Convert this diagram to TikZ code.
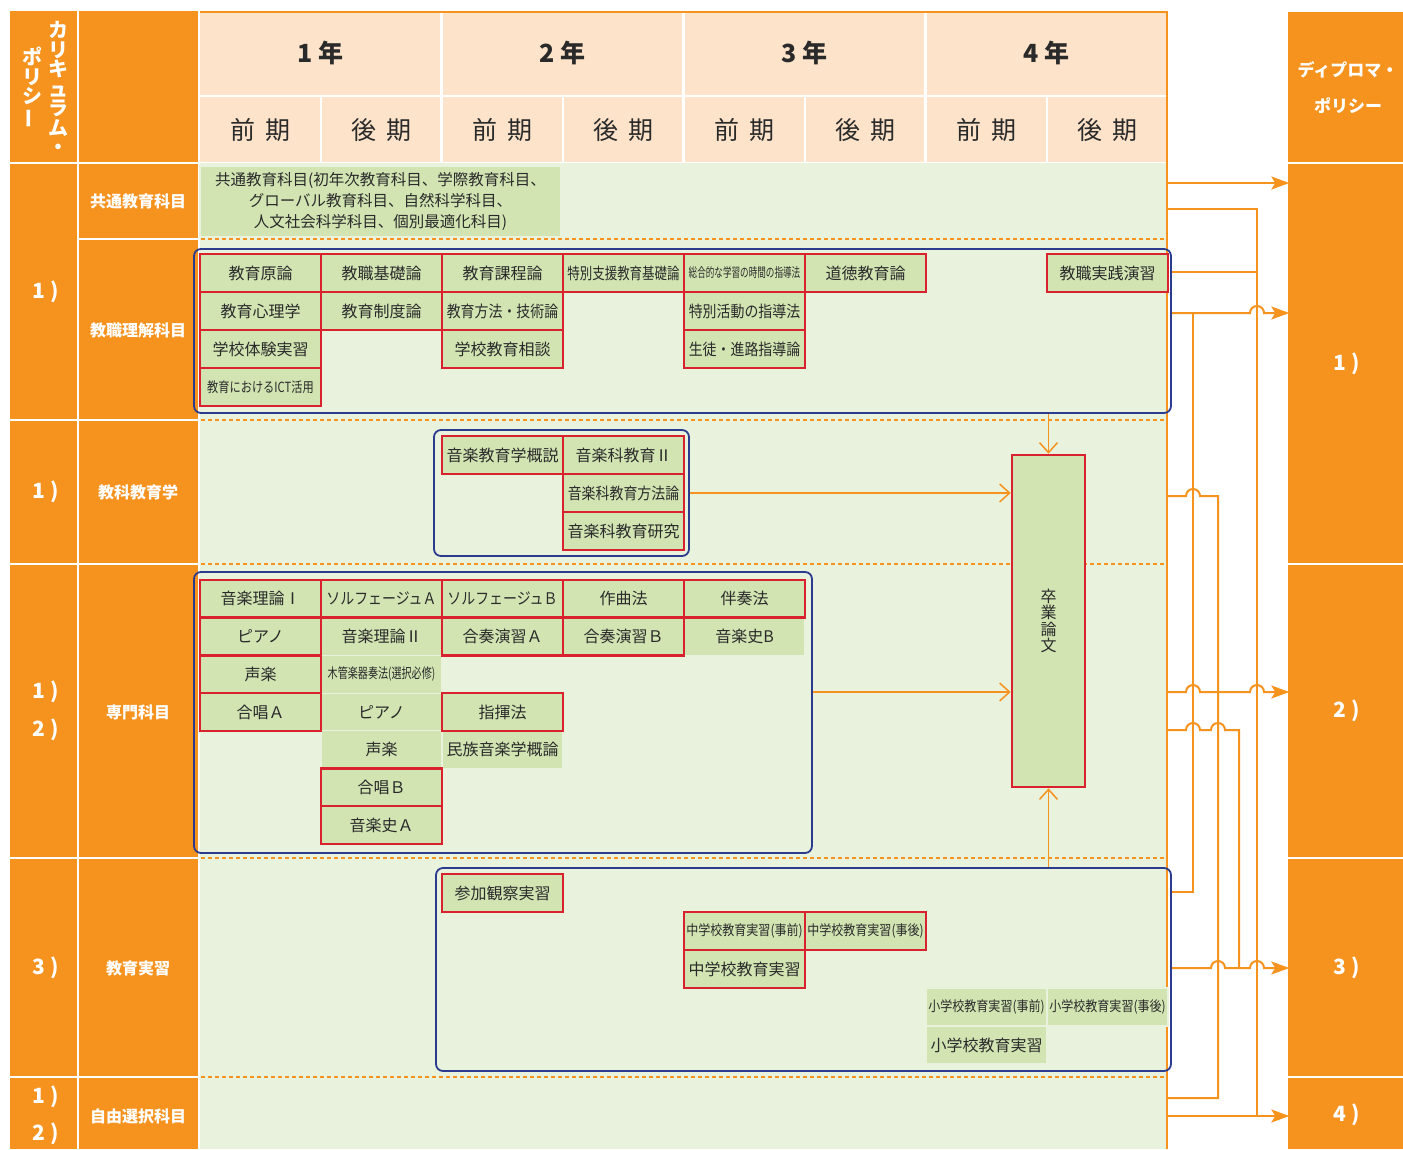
\documentclass[tikz,border=0pt]{standalone}
\usepackage{fontspec}
\setmainfont{Noto Sans CJK JP}
\usepackage{graphicx}
\usetikzlibrary{arrows.meta}
\definecolor{org}{HTML}{F6921E}
\definecolor{peach}{HTML}{FDE3C9}
\definecolor{bgg}{HTML}{E9F2DD}
\definecolor{cellg}{HTML}{D1E4B2}
\definecolor{redb}{HTML}{D8232E}
\definecolor{blueb}{HTML}{2B3C8F}
\definecolor{txt}{HTML}{2A2A2A}
\newcommand\fs[1]{\fontsize{#1}{#1}\selectfont}
\newcommand\cnd[2]{\scalebox{#1}[1]{#2}}
\tikzset{
  txtb/.style={inner sep=0pt, text=txt, font=\fs{16}},
  gcell/.style={txtb, fill=cellg, draw=bgg, line width=1.2pt, minimum width=121pt, minimum height=38pt},
  rcell/.style={txtb, fill=cellg, draw=redb, line width=2.6pt, minimum width=121pt, minimum height=38pt},
  sh/.style={minimum height=37.7pt},
  bluebox/.style={draw=blueb, line width=1.8pt, rounded corners=7pt, inner sep=0pt},
  wlab/.style={text=white, font=\fs{16}\bfseries, inner sep=0pt},
  pnum/.style={text=white, font=\fs{21}\bfseries, inner sep=0pt},
  hdr/.style={text=txt, inner sep=0pt},
  wline/.style={draw=white, line width=2.5pt},
  dline/.style={draw=org, line width=1.2pt, dash pattern=on 4pt off 3pt},
  barb/.style={draw=org, line width=1.5pt, -{Straight Barb[length=10pt,width=18pt]}},
  conn/.style={draw=org, line width=2pt},
  conna/.style={conn, -{Stealth[length=18pt,width=13pt,inset=4pt]}},
  dpbox/.style={minimum width=115pt, inner sep=0pt, text=white, font=\fs{21}\bfseries},
}
\begin{document}
\begin{tikzpicture}[x=1pt,y=-1pt]
\useasboundingbox (0,0) rectangle (1403,1149);
\begin{scope}
\clip (0,0) rectangle (1403,1149);
% backgrounds
\fill[bgg] (199,163) rectangle (1167,1149);
\fill[peach] (199,12) rectangle (1167,162);
\draw[org, line width=2pt] (199,12) -- (1167,12) -- (1167,1149);
\fill[org] (10,11) rectangle (198,1149);
\fill[org] (1288,12) rectangle (1403,1149);
% header white lines
\draw[wline] (199,96) -- (1166,96);
\foreach \x in {441.5,683.5,925.5} \draw[wline] (\x,13) -- (\x,162);
\foreach \x in {321,563,805,1047} \draw[wline] (\x,96) -- (\x,162);
\draw[wline] (199,11) -- (199,1149);
% left column white lines
\draw[wline] (78,11) -- (78,1149);
\foreach \y in {163,420,564,858,1077} \draw[wline] (10,\y) -- (198,\y);
\draw[wline] (78,239) -- (198,239);
% right column white lines
\foreach \y in {163,564,858,1077} \draw[wline] (1288,\y) -- (1403,\y);
% dashed separators
\foreach \y in {239,420,564,858,1077} \draw[dline] (201,\y) -- (1166,\y);
\end{scope}

% header texts
\node[hdr, font=\fs{25}\bfseries] (y1) at (320.5,53) {1\hspace{0.2em}年};
\node[hdr, font=\fs{25}\bfseries] (y2) at (562.5,53) {2\hspace{0.2em}年};
\node[hdr, font=\fs{25}\bfseries] (y3) at (804.5,53) {3\hspace{0.2em}年};
\node[hdr, font=\fs{25}\bfseries] (y4) at (1046.5,53) {4\hspace{0.2em}年};
\node[hdr, font=\fs{25}] (s1) at (260.5,130) {前\hspace{0.4em}期};
\node[hdr, font=\fs{25}] (s2) at (381.5,130) {後\hspace{0.4em}期};
\node[hdr, font=\fs{25}] (s3) at (502.5,130) {前\hspace{0.4em}期};
\node[hdr, font=\fs{25}] (s4) at (623.5,130) {後\hspace{0.4em}期};
\node[hdr, font=\fs{25}] (s5) at (744.5,130) {前\hspace{0.4em}期};
\node[hdr, font=\fs{25}] (s6) at (865.5,130) {後\hspace{0.4em}期};
\node[hdr, font=\fs{25}] (s7) at (986.5,130) {前\hspace{0.4em}期};
\node[hdr, font=\fs{25}] (s8) at (1107.5,130) {後\hspace{0.4em}期};

% curriculum policy vertical title
\node[text=white, inner sep=0pt, align=center, font=\fontsize{20}{19.5}\selectfont\bfseries] (cpa) at (58,88) {カ\\リ\\キ\\ュ\\ラ\\ム\\・};
\node[text=white, inner sep=0pt, align=center, font=\fontsize{20}{19.5}\selectfont\bfseries] (cpb) at (32,88) {ポ\\リ\\シ\\\rotatebox[origin=c]{90}{ー}};

% category labels
\node[wlab] (k1) at (138,201) {共通教育科目};
\node[wlab] (k2) at (138,330) {教職理解科目};
\node[wlab] (k3) at (138,492) {教科教育学};
\node[wlab] (k4) at (138,712) {専門科目};
\node[wlab] (k5) at (138,968) {教育実習};
\node[wlab] (k6) at (138,1116) {自由選択科目};

% policy numbers left
\node[pnum] (n1) at (46,292) {1\hspace{0.25em})};
\node[pnum] (n2) at (46,492) {1\hspace{0.25em})};
\node[pnum] (n3) at (46,692) {1\hspace{0.25em})};
\node[pnum] (n4) at (46,730) {2\hspace{0.25em})};
\node[pnum] (n5) at (46,968) {3\hspace{0.25em})};
\node[pnum] (n6) at (46,1097) {1\hspace{0.25em})};
\node[pnum] (n7) at (46,1134) {2\hspace{0.25em})};

% diploma policy column
\node[text=white, inner sep=0pt, font=\fs{17}\bfseries] (dph1) at (1348,70) {ディプロマ・};
\node[text=white, inner sep=0pt, font=\fs{17}\bfseries] (dph2) at (1348,106) {ポリシー};
\node[dpbox, minimum height=399pt] (dp1) at (1347,363.5) {1\hspace{0.25em})};
\node[dpbox, minimum height=292pt] (dp2) at (1347,711) {2\hspace{0.25em})};
\node[dpbox, minimum height=217pt] (dp3) at (1347,967.5) {3\hspace{0.25em})};
\node[dpbox, minimum height=71pt] (dp4) at (1347,1115) {4\hspace{0.25em})};

% common education
\node[gcell, minimum width=361pt, minimum height=71pt, align=center, font=\fontsize{15.5}{21}\selectfont] (kyotsu) at (380.5,201.5) {共通教育科目(初年次教育科目、学際教育科目、\\グローバル教育科目、自然科学科目、\\人文社会科学科目、個別最適化科目)};

% blue group boxes
\node[bluebox, minimum width=977pt, minimum height=164pt] (kyo) at (682.5,331) {};
\node[bluebox, minimum width=255pt, minimum height=126pt] (kka) at (561.5,493) {};
\node[bluebox, minimum width=618pt, minimum height=281pt] (sen) at (503,712.5) {};
\node[bluebox, minimum width=735pt, minimum height=203pt] (jis) at (803.5,969.5) {};

% teaching profession
\node[rcell] (a1) at (260.5,273) {教育原論};
\node[rcell] (a2) at (381.5,273) {教職基礎論};
\node[rcell] (a3) at (502.5,273) {教育課程論};
\node[rcell] (a4) at (623.5,273) {\cnd{0.78}{特別支援教育基礎論}};
\node[rcell] (a5) at (744.5,273) {\fs{13}\cnd{0.66}{総合的な学習の時間の指導法}};
\node[rcell] (a6) at (865.5,273) {道徳教育論};
\node[rcell] (a7) at (1107.5,273) {教職実践演習};
\node[rcell] (b1) at (260.5,311) {教育心理学};
\node[rcell] (b2) at (381.5,311) {教育制度論};
\node[rcell] (b3) at (502.5,311) {\cnd{0.87}{教育方法・技術論}};
\node[rcell] (b5) at (744.5,311) {\cnd{0.87}{特別活動の指導法}};
\node[rcell] (c1) at (260.5,349) {学校体験実習};
\node[rcell] (c3) at (502.5,349) {学校教育相談};
\node[rcell] (c5) at (744.5,349) {\cnd{0.87}{生徒・進路指導論}};
\node[rcell] (d1) at (260.5,387) {\fs{14}\cnd{0.8}{教育におけるICT活用}};

% subject education
\node[rcell] (e1) at (502.5,455) {音楽教育学概説};
\node[rcell] (e2) at (623.5,455) {音楽科教育Ⅱ};
\node[rcell] (e3) at (623.5,493) {\cnd{0.87}{音楽科教育方法論}};
\node[rcell] (e4) at (623.5,531) {音楽科教育研究};

% specialized subjects: green only
\node[gcell, sh] (g2) at (381.5,636.6) {音楽理論Ⅱ};
\node[gcell, sh] (g5) at (744.5,636.6) {音楽史B};
\node[gcell, sh] (h2) at (381.5,674.3) {\fs{14}\cnd{0.72}{木管楽器奏法(選択必修)}};
\node[gcell, sh] (i2) at (381.5,712) {ピアノ};
\node[gcell, sh] (j2) at (381.5,749.6) {声楽};
\node[gcell, sh] (j3) at (502.5,749.6) {民族音楽学概論};
% specialized subjects: red
\node[rcell, sh] (f1) at (260.5,598.9) {音楽理論Ⅰ};
\node[rcell, sh] (f2) at (381.5,598.9) {\cnd{0.87}{ソルフェージュＡ}};
\node[rcell, sh] (f3) at (502.5,598.9) {\cnd{0.87}{ソルフェージュＢ}};
\node[rcell, sh] (f4) at (623.5,598.9) {作曲法};
\node[rcell, sh] (f5) at (744.5,598.9) {伴奏法};
\node[rcell, sh] (g1) at (260.5,636.6) {ピアノ};
\node[rcell, sh] (g3) at (502.5,636.6) {合奏演習Ａ};
\node[rcell, sh] (g4) at (623.5,636.6) {合奏演習Ｂ};
\node[rcell, sh] (h1) at (260.5,674.3) {声楽};
\node[rcell, sh] (i1) at (260.5,712) {合唱Ａ};
\node[rcell, sh] (i3) at (502.5,712) {指揮法};
\node[rcell, sh] (m6b) at (381.5,787.3) {合唱Ｂ};
\node[rcell, sh] (m7a) at (381.5,825) {音楽史Ａ};

% practicum
\node[gcell] (p5) at (986.5,1007) {\fs{14}\cnd{0.86}{小学校教育実習(事前)}};
\node[gcell] (p6) at (1107.5,1007) {\fs{14}\cnd{0.86}{小学校教育実習(事後)}};
\node[gcell] (p7) at (986.5,1045) {小学校教育実習};
\node[rcell] (p1) at (502.5,893) {参加観察実習};
\node[rcell] (p2) at (744.5,931) {\fs{14}\cnd{0.86}{中学校教育実習(事前)}};
\node[rcell] (p3) at (865.5,931) {\fs{14}\cnd{0.86}{中学校教育実習(事後)}};
\node[rcell] (p4) at (744.5,969) {中学校教育実習};

% graduation thesis
\node[rcell, minimum width=73pt, minimum height=332pt, align=center, font=\fontsize{16}{16.5}\selectfont] (thesis) at (1048.5,621) {卒\\業\\論\\文};

\coordinate (ysm) at (0,692);
\draw[barb] (kyo.south -| thesis.north) -- (thesis.north);
\draw[barb] (kka.east) -- (kka.east -| thesis.west);
\draw[barb] (sen.east |- ysm) -- (thesis.west |- ysm);
\draw[barb] (jis.north -| thesis.south) -- (thesis.south);

% right connectors
\coordinate (p183) at (1168,183);
\coordinate (p209) at (1168,209);
\coordinate (p272) at (1172,272);
\coordinate (p313) at (1172,313);
\coordinate (p496) at (1168,496);
\coordinate (p692) at (1168,692);
\coordinate (p730) at (1168,730);
\coordinate (p892) at (1172,892);
\coordinate (p968) at (1172,968);
\coordinate (p1098) at (1168,1098);
\coordinate (p1116) at (1168,1116);

\draw[conna] (p183) -- (p183 -| dp1.west);
\draw[conn] (p209) -- (1257,209) -- (1257,1116);
\draw[conn] (p272) -- (1257,272);
\draw[conna] (p313) -- (1250,313) arc[start angle=180,end angle=360,radius=7] -- (p313 -| dp1.west);
\draw[conn] (1193,313) -- (1193,892) -- (p892);
\draw[conn] (p496) -- (1186,496) arc[start angle=180,end angle=360,radius=7] -- (1218,496) -- (1218,1098) -- (p1098);
\draw[conna] (p692) -- (1186,692) arc[start angle=180,end angle=360,radius=7] -- (1250,692) arc[start angle=180,end angle=360,radius=7] -- (p692 -| dp2.west);
\draw[conn] (p730) -- (1186,730) arc[start angle=180,end angle=360,radius=7] -- (1211,730) arc[start angle=180,end angle=360,radius=7] -- (1239,730) -- (1239,968);
\draw[conna] (p968) -- (1211,968) arc[start angle=180,end angle=360,radius=7] -- (1250,968) arc[start angle=180,end angle=360,radius=7] -- (p968 -| dp3.west);
\draw[conna] (p1116) -- (p1116 -| dp4.west);
\end{tikzpicture}
\end{document}
